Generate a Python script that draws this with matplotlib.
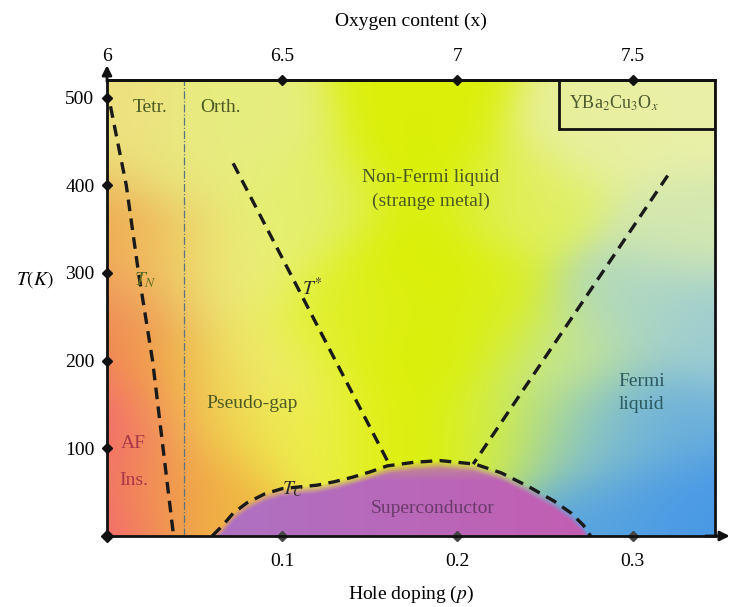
import numpy as np
import matplotlib.pyplot as plt
from matplotlib.colors import to_rgb
from matplotlib.patches import Rectangle

plt.rcParams['font.family'] = ['Liberation Serif', 'DejaVu Serif']
plt.rcParams['mathtext.fontset'] = 'stix'

# phase boundaries: hole doping p, temperature T (K)
tn_p = [0.002, 0.011, 0.018, 0.026, 0.032, 0.038]
tn_T = [490, 400, 300, 200, 100, 0]

tstar_p = [0.072, 0.161]
tstar_T = [425, 82]

fl_p = [0.320, 0.209]
fl_T = [411, 82]

tc_p = [0.060, 0.066, 0.072, 0.080, 0.090, 0.100, 0.110, 0.120, 0.130, 0.140,
        0.150, 0.160, 0.175, 0.190, 0.210, 0.225, 0.240, 0.255, 0.265, 0.272, 0.276]
tc_T = [0, 12, 26, 38, 48, 54, 56, 58, 62, 67,
        73, 80, 84, 86, 82, 72, 57, 40, 26, 12, 0]

ortho_p = 0.044

p_ticks = [0.1, 0.2, 0.3]
p_labels = ['0.1', '0.2', '0.3']
T_ticks = [100, 200, 300, 400, 500]
x_ticks = [6, 6.5, 7, 7.5]
x_labels = ['6', '6.5', '7', '7.5']

p_max, t_max = 0.347, 520

# colour anchors for the background wash (p, T, colour)
anchors = [
    (0.000, 20, '#f5587c'), (0.000, 140, '#f45c78'), (0.008, 80, '#f36872'),
    (0.000, 260, '#f07c58'), (0.000, 360, '#f0a450'), (0.005, 470, '#eee080'),
    (0.028, 60, '#eea03c'), (0.032, 180, '#f0aa3c'), (0.025, 300, '#f0cc60'),
    (0.050, 30, '#f0bc40'), (0.060, 120, '#f2d84c'),
    (0.040, 420, '#e8ec80'), (0.070, 300, '#eaf07c'), (0.080, 190, '#eef070'),
    (0.080, 480, '#e6ee80'), (0.120, 120, '#ecf050'), (0.115, 380, '#e4f070'),
    (0.170, 120, '#dcf000'), (0.180, 220, '#daf000'), (0.180, 320, '#daf000'),
    (0.180, 420, '#daf000'), (0.180, 510, '#dcf008'), (0.140, 250, '#e0f028'),
    (0.215, 250, '#dcf018'), (0.225, 120, '#d8f040'), (0.235, 380, '#e0f060'),
    (0.260, 200, '#c8e890'), (0.280, 470, '#e8f0a0'), (0.335, 480, '#eaf0a8'),
    (0.335, 350, '#d4e8b0'), (0.300, 260, '#b0d8c0'), (0.340, 240, '#9cccd4'),
    (0.270, 110, '#8cc8c8'), (0.310, 130, '#6cb0dc'), (0.330, 30, '#4898e6'),
    (0.285, 20, '#58a4e0'),
]

P, T = np.meshgrid(np.linspace(0, p_max, 360), np.linspace(0, t_max, 280))
acc = np.zeros(P.shape + (3,))
wsum = np.zeros(P.shape)
for ap, at, c in anchors:
    d2 = ((P - ap) / p_max) ** 2 + ((T - at) / t_max) ** 2
    w = np.exp(-d2 / (2 * 0.08 ** 2))
    acc += w[..., None] * np.array(to_rgb(c))
    wsum += w
img = acc / wsum[..., None]

# superconducting dome in purple, fading out towards Tc
tc_grid = np.interp(P, tc_p, tc_T)
alpha = np.clip((tc_grid - T) / 10, 0, 1) * np.clip((112 - T) / 50, 0, 1) ** 0.7
mix = np.clip((P - 0.06) / 0.216, 0, 1)[..., None]
purple = (1 - mix) * np.array(to_rgb('#ae72c2')) + mix * np.array(to_rgb('#c25eb2'))
img = img * (1 - alpha[..., None]) + purple * alpha[..., None]

fig = plt.figure(figsize=(7.34, 6.07), dpi=100)
ax = fig.add_axes([107 / 734, 71 / 607, 608 / 734, 456 / 607])
ax.imshow(img, extent=[0, p_max, 0, t_max], origin='lower', aspect='auto',
          interpolation='bilinear')
ax.set_xlim(0, p_max)
ax.set_ylim(0, t_max)

dash = dict(color='#1a1a1a', lw=2.4, linestyle=(0, (3.5, 2.2)))
ax.plot(tn_p, tn_T, **dash)
ax.plot(tstar_p, tstar_T, **dash)
ax.plot(fl_p, fl_T, **dash)
ax.plot(tc_p, tc_T, **dash)
ax.axvline(ortho_p, color='#5a7484', lw=0.9, linestyle='-.')

# region labels
fs = 14
ax.text(0.0246, 489, 'Tetr.', ha='center', va='center', fontsize=fs, color='#4c5a24')
ax.text(0.0646, 489, 'Orth.', ha='center', va='center', fontsize=fs, color='#4c5a24')
ax.text(0.185, 395, 'Non-Fermi liquid\n(strange metal)', ha='center', va='center',
        fontsize=fs, color='#4c5a24', linespacing=1.45)
ax.text(0.083, 151, 'Pseudo-gap', ha='center', va='center', fontsize=fs, color='#4c5a24')
ax.text(0.015, 105, 'AF', ha='center', va='center', fontsize=fs, color='#a83848')
ax.text(0.015, 63, 'Ins.', ha='center', va='center', fontsize=fs, color='#a83848')
ax.text(0.186, 31, 'Superconductor', ha='center', va='center', fontsize=fs, color='#6a3a6c')
ax.text(0.305, 163, 'Fermi\nliquid', ha='center', va='center', fontsize=fs,
        color='#2c5a60', linespacing=1.5)
ax.text(0.022, 292, r'$T_N$', ha='center', va='center', fontsize=fs, color='#5a6a20')
ax.text(0.117, 283, r'$T^{*}$', ha='center', va='center', fontsize=fs, color='#2a2a2a')
ax.text(0.106, 53, r'$T_C$', ha='center', va='center', fontsize=fs, color='#2a2a2a')

ax.add_patch(Rectangle((0.258, 464), p_max - 0.258, t_max - 464, fill=False,
                       edgecolor='#111111', lw=2))
ax.text(0.289, 493, r'YBa$_2$Cu$_3$O$_x$', ha='center', va='center', fontsize=13,
        color='#4c5a30')

# axes frame, ticks and arrows
for s in ax.spines.values():
    s.set_linewidth(2)
    s.set_color('#111111')

ax.set_xticks(p_ticks, p_labels)
ax.set_yticks(T_ticks)
ax.tick_params(axis='x', length=0, pad=12, labelsize=fs)
ax.tick_params(axis='y', length=0, pad=9, labelsize=fs)
ax.plot(p_ticks, [0] * len(p_ticks), 'D', ms=5, color='#444444', clip_on=False)
ax.plot([0] * len(T_ticks), T_ticks, 'D', ms=5, color='#111111', clip_on=False)
ax.plot([0], [0], 'D', ms=6, color='#111111', clip_on=False)

secax = ax.secondary_xaxis('top', functions=(lambda p: 6 + 5 * p, lambda x: (x - 6) / 5))
secax.set_xticks(x_ticks, x_labels)
secax.tick_params(length=0, pad=11, labelsize=fs)
secax.spines['top'].set_linewidth(2)
secax.set_xlabel('Oxygen content (x)', fontsize=fs, labelpad=16)
ax.plot([(x - 6) / 5 for x in x_ticks[1:]], [t_max] * 3, 'D', ms=5, color='#111111',
        clip_on=False)

ax.annotate('', xy=(0, 540), xytext=(0, 515), annotation_clip=False,
            arrowprops=dict(arrowstyle='-|>', color='#111111', lw=2, mutation_scale=14))
ax.annotate('', xy=(0.357, 0), xytext=(0.340, 0), annotation_clip=False,
            arrowprops=dict(arrowstyle='-|>', color='#111111', lw=2, mutation_scale=14))

ax.set_xlabel(r'Hole doping ($p$)', fontsize=fs, labelpad=10)
ax.set_ylabel(r'$T(K)$', fontsize=fs, rotation=0)
ax.yaxis.set_label_coords(-0.118, 0.54)

fig.savefig('out.png', dpi=100)
